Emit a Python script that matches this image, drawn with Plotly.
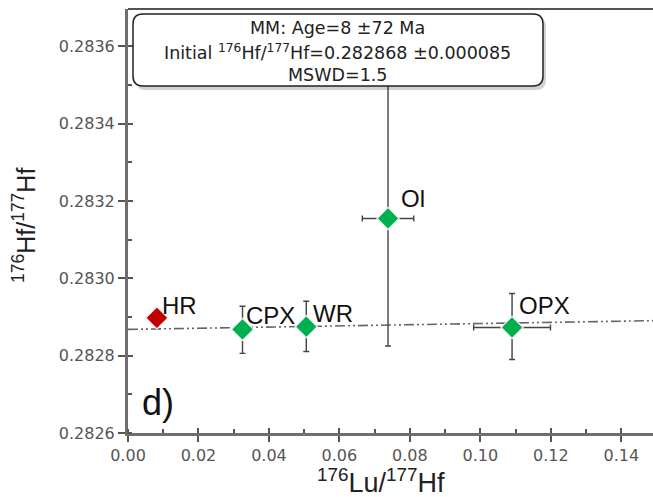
import plotly.graph_objects as go

# ---- data ----
samples = ["HR", "CPX", "WR", "Ol", "OPX"]
lu_hf = [0.0082, 0.0325, 0.0506, 0.0738, 0.1090]
hf_hf = [0.282898, 0.282868, 0.282875, 0.283155, 0.282873]
lu_err = [0.0, 0.0008, 0.0008, 0.0073, 0.0109]
hf_err_plus = [0.0, 0.000060, 0.000066, 0.000360, 0.000088]
hf_err_minus = [0.0, 0.000062, 0.000064, 0.000330, 0.000083]
colors = ["#C00000", "#00B050", "#00B050", "#00B050", "#00B050"]

# isochron (MM: Age=8 Ma, initial 0.282868)
iso_initial = 0.282868
iso_slope = 0.000152
x_range = [0.0, 0.149]
y_range = [0.2826, 0.283697]

box_lines = [
    "MM: Age=8 ±72 Ma",
    "Initial <sup>176</sup>Hf/<sup>177</sup>Hf=0.282868 ±0.000085",
    "MSWD=1.5",
]
x_title = "<sup>176</sup>Lu/<sup>177</sup>Hf"
y_title = "<sup>176</sup>Hf/<sup>177</sup>Hf"
panel_label = "d)"

# label offsets (px)
label_dx = [3, 1, 5, 11, 5]
label_dy = [12, 14, 13, 20, 22]

W, H = 653, 497
ML, MR, MT, MB = 128, 0, 9, 64
PW, PH = W - ML - MR, H - MT - MB

def px(x):
    return (x - ML) / PW

def py(y):
    return (H - MB - y) / PH

TICKFONT = dict(family="DejaVu Sans", size=16, color="#555555")
LABFONT = "Liberation Sans, Arial, sans-serif"

fig = go.Figure()

# isochron line
fig.add_trace(go.Scatter(
    x=x_range,
    y=[iso_initial + iso_slope * v for v in x_range],
    mode="lines",
    line=dict(color="#666666", width=1.6, dash="10px,3px,2px,3px,2px,3px"),
    hoverinfo="skip", showlegend=False,
))

# data points with error bars
fig.add_trace(go.Scatter(
    x=lu_hf, y=hf_hf, mode="markers",
    marker=dict(symbol="diamond", size=17, color=colors,
                line=dict(color="#f4f4f4", width=1.2)),
    error_x=dict(type="data", array=lu_err, color="#444444", thickness=1.4, width=3),
    error_y=dict(type="data", array=hf_err_plus, arrayminus=hf_err_minus,
                 color="#444444", thickness=1.4, width=3),
    showlegend=False,
))

annotations = []
for name, x, y, dx, dy in zip(samples, lu_hf, hf_hf, label_dx, label_dy):
    annotations.append(dict(
        x=x, y=y, xref="x", yref="y", text=name, showarrow=False,
        xanchor="left", yanchor="middle", xshift=dx, yshift=dy,
        font=dict(family=LABFONT, size=24, color="#111111"),
    ))

box_y = [28, 51.5, 75]
for t, yy in zip(box_lines, box_y):
    annotations.append(dict(
        x=px(337), y=py(yy), xref="paper", yref="paper", text=t,
        showarrow=False, xanchor="center", yanchor="middle",
        font=dict(family="DejaVu Sans", size=17.5, color="#222222"),
    ))

annotations.append(dict(
    x=px(140), y=py(402), xref="paper", yref="paper", text=panel_label,
    showarrow=False, xanchor="left", yanchor="middle",
    font=dict(family=LABFONT, size=36, color="#111111"),
))
annotations.append(dict(
    x=px(381), y=py(481), xref="paper", yref="paper", text=x_title,
    showarrow=False, xanchor="center", yanchor="middle",
    font=dict(family=LABFONT, size=27, color="#222222"),
))
annotations.append(dict(
    x=px(24), y=py(226), xref="paper", yref="paper", text=y_title,
    showarrow=False, xanchor="center", yanchor="middle", textangle=-90,
    font=dict(family=LABFONT, size=25, color="#222222"),
))

def rounded_path(x0, y0, x1, y1, r):
    # pixel coords -> paper coords
    rx, ry = r / PW, r / PH
    X0, X1 = px(x0), px(x1)
    Yt, Yb = py(y0), py(y1)
    return (f"M {X0+rx},{Yt} L {X1-rx},{Yt} Q {X1},{Yt} {X1},{Yt-ry} "
            f"L {X1},{Yb+ry} Q {X1},{Yb} {X1-rx},{Yb} "
            f"L {X0+rx},{Yb} Q {X0},{Yb} {X0},{Yb+ry} "
            f"L {X0},{Yt-ry} Q {X0},{Yt} {X0+rx},{Yt} Z")

shapes = [
    # shadow
    dict(type="path", xref="paper", yref="paper",
         path=rounded_path(136, 17, 546, 90, 10),
         fillcolor="rgba(0,0,0,0.18)", line=dict(width=0), layer="above"),
    dict(type="path", xref="paper", yref="paper",
         path=rounded_path(133, 14, 543, 86, 10),
         fillcolor="white", line=dict(color="#222222", width=1.5), layer="above"),
    # top frame line
    dict(type="line", xref="paper", yref="paper", x0=0, x1=1, y0=1, y1=1,
         line=dict(color="#555555", width=2)),
]

fig.update_layout(
    width=W, height=H,
    margin=dict(l=ML, r=MR, t=MT, b=MB),
    paper_bgcolor="white", plot_bgcolor="white",
    showlegend=False,
    annotations=annotations, shapes=shapes,
    xaxis=dict(range=x_range, tick0=0, dtick=0.02, tickformat=".2f",
               showgrid=False, zeroline=False, showline=True,
               linecolor="#6e6e6e", linewidth=3,
               ticks="outside", ticklen=6, tickwidth=1.5, tickcolor="#555555",
               tickfont=TICKFONT,
               minor=dict(ticks="inside", dtick=0.01, ticklen=4, tickwidth=1.5,
                          tickcolor="#555555", showgrid=False)),
    yaxis=dict(range=y_range, tick0=0.2826, dtick=0.0002, tickformat=".4f",
               showgrid=False, zeroline=False, showline=True,
               linecolor="#6e6e6e", linewidth=3,
               ticks="outside", ticklen=7, tickwidth=1.5, tickcolor="#555555",
               tickfont=TICKFONT,
               minor=dict(ticks="inside", dtick=0.0001, ticklen=4, tickwidth=1.5,
                          tickcolor="#555555", showgrid=False)),
    xaxis2=dict(overlaying="x", matches="x", anchor="y", side="bottom",
                tick0=0, dtick=0.02, ticks="inside", ticklen=5, tickwidth=1.5,
                tickcolor="#555555", showticklabels=False, showgrid=False,
                zeroline=False, showline=False),
    yaxis2=dict(overlaying="y", matches="y", anchor="x", side="left",
                tick0=0.2826, dtick=0.0002, ticks="inside", ticklen=5, tickwidth=1.5,
                tickcolor="#555555", showticklabels=False, showgrid=False,
                zeroline=False, showline=False),
)

# invisible trace to activate the overlay axes
fig.add_trace(go.Scatter(x=[None], y=[None], xaxis="x2", yaxis="y2",
                         showlegend=False, hoverinfo="skip"))

fig.write_html("out.html")
